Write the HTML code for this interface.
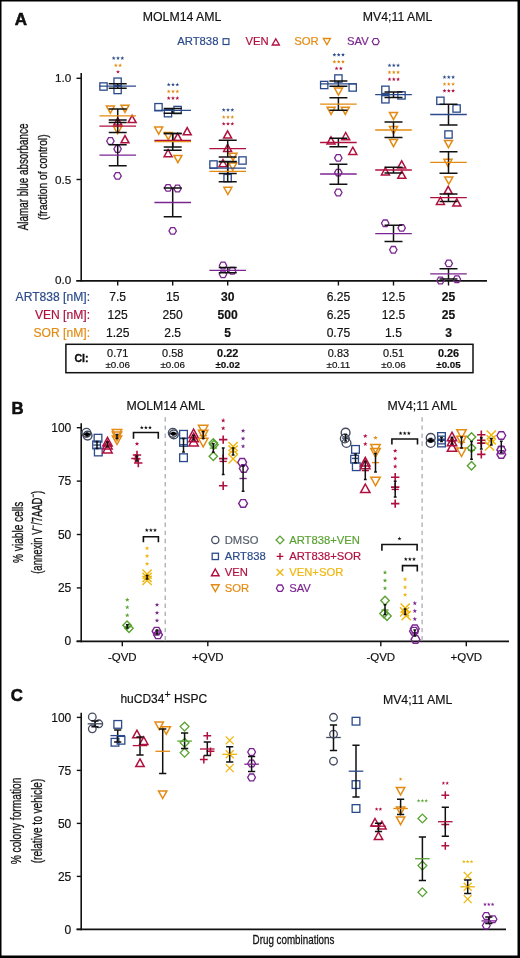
<!DOCTYPE html>
<html><head><meta charset="utf-8"><style>
html,body{margin:0;padding:0;background:#fff;}
#wrap{position:relative;width:520px;height:958px;overflow:hidden;background:#fff;}
svg{position:absolute;left:0;top:0;will-change:transform;}
text{font-family:"Liberation Sans",sans-serif;}
text:not([stroke]){stroke:currentColor;stroke-width:0.18px;}
</style></head><body><div id="wrap">
<svg width="520" height="958" viewBox="0 0 520 958">
<text x="14.7" y="25.3" font-size="17" fill="#111" color="#111" text-anchor="start" font-weight="bold" stroke="#000" stroke-width="0.5">A</text>
<text x="142.8" y="20.75" font-size="12.3" fill="#111" color="#111" text-anchor="start" font-weight="normal" >MOLM14 AML</text>
<text x="362.8" y="20.75" font-size="12.3" fill="#111" color="#111" text-anchor="start" font-weight="normal" >MV4;11 AML</text>
<text x="177.2" y="45" font-size="11.3" fill="#2b4a8b" color="#2b4a8b" text-anchor="start" font-weight="normal" >ART838</text>
<rect x="223.1" y="38.7" width="5.8" height="5.8" fill="none" stroke="#2b4a8b" stroke-width="1.2"/>
<text x="245.5" y="45" font-size="11.3" fill="#b0103e" color="#b0103e" text-anchor="start" font-weight="normal" >VEN</text>
<polygon points="275.8,38.8 279.4,45 272.2,45" fill="none" stroke="#b0103e" stroke-width="1.3" stroke-linejoin="miter"/>
<text x="294.3" y="45" font-size="11.3" fill="#e38b13" color="#e38b13" text-anchor="start" font-weight="normal" >SOR</text>
<polygon points="326.9,44.7 330.5,38.5 323.3,38.5" fill="none" stroke="#e38b13" stroke-width="1.3" stroke-linejoin="miter"/>
<text x="347" y="45" font-size="11.3" fill="#7b2590" color="#7b2590" text-anchor="start" font-weight="normal" >SAV</text>
<polygon points="372.2,41.6 373.95,38.5 377.45,38.5 379.2,41.6 377.45,44.7 373.95,44.7" fill="none" stroke="#7b2590" stroke-width="1.2"/>
<line x1="81.2" y1="73" x2="81.2" y2="281.5" stroke="#111" stroke-width="1.6" />
<line x1="76.2" y1="280.8" x2="487" y2="280.8" stroke="#111" stroke-width="1.8" />
<line x1="76.5" y1="78.3" x2="81.2" y2="78.3" stroke="#111" stroke-width="1.4" />
<line x1="76.5" y1="179.5" x2="81.2" y2="179.5" stroke="#111" stroke-width="1.4" />
<text x="71.2" y="82.3" font-size="11.7" fill="#111" color="#111" text-anchor="end" font-weight="normal" >1.0</text>
<text x="71.2" y="183.5" font-size="11.7" fill="#111" color="#111" text-anchor="end" font-weight="normal" >0.5</text>
<text x="71.2" y="284.4" font-size="11.7" fill="#111" color="#111" text-anchor="end" font-weight="normal" >0.0</text>
<line x1="117.7" y1="280.8" x2="117.7" y2="285.5" stroke="#111" stroke-width="1.4" />
<line x1="172.7" y1="280.8" x2="172.7" y2="285.5" stroke="#111" stroke-width="1.4" />
<line x1="227.7" y1="280.8" x2="227.7" y2="285.5" stroke="#111" stroke-width="1.4" />
<line x1="338.4" y1="280.8" x2="338.4" y2="285.5" stroke="#111" stroke-width="1.4" />
<line x1="393.5" y1="280.8" x2="393.5" y2="285.5" stroke="#111" stroke-width="1.4" />
<line x1="448.5" y1="280.8" x2="448.5" y2="285.5" stroke="#111" stroke-width="1.4" />
<text transform="translate(27.7,176.9) rotate(-90)" x="0" y="0" font-size="14" fill="#111" text-anchor="middle" textLength="106.6" lengthAdjust="spacingAndGlyphs" stroke="#111" stroke-width="0.3">Alamar blue absorbance</text>
<text transform="translate(46.6,177.2) rotate(-90)" x="0" y="0" font-size="13.5" fill="#111" text-anchor="middle" textLength="85.5" lengthAdjust="spacingAndGlyphs" stroke="#111" stroke-width="0.3">(fraction of control)</text>
<polygon points="113.7,56.1 114.19,57.52 115.7,57.55 114.5,58.46 114.93,59.9 113.7,59.04 112.47,59.9 112.9,58.46 111.7,57.55 113.21,57.52" fill="#2b4a8b"/>
<polygon points="118,56.1 118.49,57.52 120,57.55 118.8,58.46 119.23,59.9 118,59.04 116.77,59.9 117.2,58.46 116,57.55 117.51,57.52" fill="#2b4a8b"/>
<polygon points="122.3,56.1 122.79,57.52 124.3,57.55 123.1,58.46 123.53,59.9 122.3,59.04 121.07,59.9 121.5,58.46 120.3,57.55 121.81,57.52" fill="#2b4a8b"/>
<polygon points="115.85,63.3 116.34,64.72 117.85,64.75 116.65,65.66 117.08,67.1 115.85,66.24 114.62,67.1 115.05,65.66 113.85,64.75 115.36,64.72" fill="#e38b13"/>
<polygon points="120.15,63.3 120.64,64.72 122.15,64.75 120.95,65.66 121.38,67.1 120.15,66.24 118.92,67.1 119.35,65.66 118.15,64.75 119.66,64.72" fill="#e38b13"/>
<polygon points="118,69.8 118.49,71.22 120,71.25 118.8,72.16 119.23,73.6 118,72.74 116.77,73.6 117.2,72.16 116,71.25 117.51,71.22" fill="#b0103e"/>
<polygon points="106.7,141 108.55,137.7 112.25,137.7 114.1,141 112.25,144.3 108.55,144.3" fill="none" stroke="#7b2590" stroke-width="1.3"/>
<polygon points="113.9,149 115.75,145.7 119.45,145.7 121.3,149 119.45,152.3 115.75,152.3" fill="none" stroke="#7b2590" stroke-width="1.3"/>
<polygon points="113.9,175.9 115.75,172.6 119.45,172.6 121.3,175.9 119.45,179.2 115.75,179.2" fill="none" stroke="#7b2590" stroke-width="1.3"/>
<polygon points="117.8,117.9 121.8,125.1 113.8,125.1" fill="none" stroke="#b0103e" stroke-width="1.5" stroke-linejoin="miter"/>
<polygon points="132.1,115.4 136.1,122.6 128.1,122.6" fill="none" stroke="#b0103e" stroke-width="1.5" stroke-linejoin="miter"/>
<polygon points="125,135.6 129,142.8 121,142.8" fill="none" stroke="#b0103e" stroke-width="1.5" stroke-linejoin="miter"/>
<polygon points="110.4,113.2 114.4,106 106.4,106" fill="none" stroke="#e38b13" stroke-width="1.5" stroke-linejoin="miter"/>
<polygon points="125,112.4 129,105.2 121,105.2" fill="none" stroke="#e38b13" stroke-width="1.5" stroke-linejoin="miter"/>
<polygon points="117.6,133.8 121.6,126.6 113.6,126.6" fill="none" stroke="#e38b13" stroke-width="1.5" stroke-linejoin="miter"/>
<rect x="99.85" y="82.85" width="7.3" height="7.3" fill="none" stroke="#2b4a8b" stroke-width="1.3"/>
<rect x="113.95" y="78.05" width="7.3" height="7.3" fill="none" stroke="#2b4a8b" stroke-width="1.3"/>
<rect x="113.95" y="86.35" width="7.3" height="7.3" fill="none" stroke="#2b4a8b" stroke-width="1.3"/>
<path d="M117.7 144.8V165.8M108.7 144.8H126.7M108.7 165.8H126.7" stroke="#111" stroke-width="1.5" fill="none"/>
<path d="M117.7 119.9V132.6M108.7 119.9H126.7M108.7 132.6H126.7" stroke="#111" stroke-width="1.5" fill="none"/>
<path d="M117.7 109.1V122.5M108.7 109.1H126.7M108.7 122.5H126.7" stroke="#111" stroke-width="1.5" fill="none"/>
<path d="M117.7 83.7V88.3M108.7 83.7H126.7M108.7 88.3H126.7" stroke="#111" stroke-width="1.5" fill="none"/>
<line x1="99.4" y1="155.2" x2="136" y2="155.2" stroke="#7b2590" stroke-width="1.3" />
<line x1="99.4" y1="126.2" x2="136" y2="126.2" stroke="#b0103e" stroke-width="1.3" />
<line x1="99.4" y1="115.8" x2="136" y2="115.8" stroke="#e38b13" stroke-width="1.3" />
<line x1="99.4" y1="86.2" x2="136" y2="86.2" stroke="#2b4a8b" stroke-width="1.3" />
<polygon points="168.7,82.5 169.19,83.92 170.7,83.95 169.5,84.86 169.93,86.3 168.7,85.44 167.47,86.3 167.9,84.86 166.7,83.95 168.21,83.92" fill="#2b4a8b"/>
<polygon points="173,82.5 173.49,83.92 175,83.95 173.8,84.86 174.23,86.3 173,85.44 171.77,86.3 172.2,84.86 171,83.95 172.51,83.92" fill="#2b4a8b"/>
<polygon points="177.3,82.5 177.79,83.92 179.3,83.95 178.1,84.86 178.53,86.3 177.3,85.44 176.07,86.3 176.5,84.86 175.3,83.95 176.81,83.92" fill="#2b4a8b"/>
<polygon points="168.7,89.4 169.19,90.82 170.7,90.85 169.5,91.76 169.93,93.2 168.7,92.34 167.47,93.2 167.9,91.76 166.7,90.85 168.21,90.82" fill="#e38b13"/>
<polygon points="173,89.4 173.49,90.82 175,90.85 173.8,91.76 174.23,93.2 173,92.34 171.77,93.2 172.2,91.76 171,90.85 172.51,90.82" fill="#e38b13"/>
<polygon points="177.3,89.4 177.79,90.82 179.3,90.85 178.1,91.76 178.53,93.2 177.3,92.34 176.07,93.2 176.5,91.76 175.3,90.85 176.81,90.82" fill="#e38b13"/>
<polygon points="168.7,96.1 169.19,97.52 170.7,97.55 169.5,98.46 169.93,99.9 168.7,99.04 167.47,99.9 167.9,98.46 166.7,97.55 168.21,97.52" fill="#b0103e"/>
<polygon points="173,96.1 173.49,97.52 175,97.55 173.8,98.46 174.23,99.9 173,99.04 171.77,99.9 172.2,98.46 171,97.55 172.51,97.52" fill="#b0103e"/>
<polygon points="177.3,96.1 177.79,97.52 179.3,97.55 178.1,98.46 178.53,99.9 177.3,99.04 176.07,99.9 176.5,98.46 175.3,97.55 176.81,97.52" fill="#b0103e"/>
<polygon points="164.4,187.9 166.25,184.6 169.95,184.6 171.8,187.9 169.95,191.2 166.25,191.2" fill="none" stroke="#7b2590" stroke-width="1.3"/>
<polygon points="173.8,188.5 175.65,185.2 179.35,185.2 181.2,188.5 179.35,191.8 175.65,191.8" fill="none" stroke="#7b2590" stroke-width="1.3"/>
<polygon points="169,230.9 170.85,227.6 174.55,227.6 176.4,230.9 174.55,234.2 170.85,234.2" fill="none" stroke="#7b2590" stroke-width="1.3"/>
<polygon points="187.2,127.6 191.2,134.8 183.2,134.8" fill="none" stroke="#b0103e" stroke-width="1.5" stroke-linejoin="miter"/>
<polygon points="177.7,133.4 181.7,140.6 173.7,140.6" fill="none" stroke="#b0103e" stroke-width="1.5" stroke-linejoin="miter"/>
<polygon points="168.1,149.5 172.1,156.7 164.1,156.7" fill="none" stroke="#b0103e" stroke-width="1.5" stroke-linejoin="miter"/>
<polygon points="158.7,134.2 162.7,127 154.7,127" fill="none" stroke="#e38b13" stroke-width="1.5" stroke-linejoin="miter"/>
<polygon points="168.3,139.7 172.3,132.5 164.3,132.5" fill="none" stroke="#e38b13" stroke-width="1.5" stroke-linejoin="miter"/>
<polygon points="177.9,162.6 181.9,155.4 173.9,155.4" fill="none" stroke="#e38b13" stroke-width="1.5" stroke-linejoin="miter"/>
<rect x="154.85" y="103.55" width="7.3" height="7.3" fill="none" stroke="#2b4a8b" stroke-width="1.3"/>
<rect x="164.35" y="109.55" width="7.3" height="7.3" fill="none" stroke="#2b4a8b" stroke-width="1.3"/>
<rect x="173.95" y="106.35" width="7.3" height="7.3" fill="none" stroke="#2b4a8b" stroke-width="1.3"/>
<path d="M172.7 188.1V216.7M163.7 188.1H181.7M163.7 216.7H181.7" stroke="#111" stroke-width="1.5" fill="none"/>
<path d="M172.7 133.6V147.1M163.7 133.6H181.7M163.7 147.1H181.7" stroke="#111" stroke-width="1.5" fill="none"/>
<path d="M172.7 133.6V150.2M163.7 133.6H181.7M163.7 150.2H181.7" stroke="#111" stroke-width="1.5" fill="none"/>
<path d="M172.7 108.6V113.2M163.7 108.6H181.7M163.7 113.2H181.7" stroke="#111" stroke-width="1.5" fill="none"/>
<line x1="154.4" y1="202.5" x2="191" y2="202.5" stroke="#7b2590" stroke-width="1.3" />
<line x1="154.4" y1="140.5" x2="191" y2="140.5" stroke="#b0103e" stroke-width="1.3" />
<line x1="154.4" y1="141.7" x2="191" y2="141.7" stroke="#e38b13" stroke-width="1.3" />
<line x1="154.4" y1="110.4" x2="191" y2="110.4" stroke="#2b4a8b" stroke-width="1.3" />
<polygon points="223.7,107.9 224.19,109.32 225.7,109.35 224.5,110.26 224.93,111.7 223.7,110.84 222.47,111.7 222.9,110.26 221.7,109.35 223.21,109.32" fill="#2b4a8b"/>
<polygon points="228,107.9 228.49,109.32 230,109.35 228.8,110.26 229.23,111.7 228,110.84 226.77,111.7 227.2,110.26 226,109.35 227.51,109.32" fill="#2b4a8b"/>
<polygon points="232.3,107.9 232.79,109.32 234.3,109.35 233.1,110.26 233.53,111.7 232.3,110.84 231.07,111.7 231.5,110.26 230.3,109.35 231.81,109.32" fill="#2b4a8b"/>
<polygon points="223.7,115 224.19,116.42 225.7,116.45 224.5,117.36 224.93,118.8 223.7,117.94 222.47,118.8 222.9,117.36 221.7,116.45 223.21,116.42" fill="#e38b13"/>
<polygon points="228,115 228.49,116.42 230,116.45 228.8,117.36 229.23,118.8 228,117.94 226.77,118.8 227.2,117.36 226,116.45 227.51,116.42" fill="#e38b13"/>
<polygon points="232.3,115 232.79,116.42 234.3,116.45 233.1,117.36 233.53,118.8 232.3,117.94 231.07,118.8 231.5,117.36 230.3,116.45 231.81,116.42" fill="#e38b13"/>
<polygon points="223.7,121.8 224.19,123.22 225.7,123.25 224.5,124.16 224.93,125.6 223.7,124.74 222.47,125.6 222.9,124.16 221.7,123.25 223.21,123.22" fill="#b0103e"/>
<polygon points="228,121.8 228.49,123.22 230,123.25 228.8,124.16 229.23,125.6 228,124.74 226.77,125.6 227.2,124.16 226,123.25 227.51,123.22" fill="#b0103e"/>
<polygon points="232.3,121.8 232.79,123.22 234.3,123.25 233.1,124.16 233.53,125.6 232.3,124.74 231.07,125.6 231.5,124.16 230.3,123.25 231.81,123.22" fill="#b0103e"/>
<polygon points="219.3,265.5 221.15,262.2 224.85,262.2 226.7,265.5 224.85,268.8 221.15,268.8" fill="none" stroke="#7b2590" stroke-width="1.3"/>
<polygon points="219.3,274.3 221.15,271 224.85,271 226.7,274.3 224.85,277.6 221.15,277.6" fill="none" stroke="#7b2590" stroke-width="1.3"/>
<polygon points="228.6,270.8 230.45,267.5 234.15,267.5 236,270.8 234.15,274.1 230.45,274.1" fill="none" stroke="#7b2590" stroke-width="1.3"/>
<polygon points="233,160.4 237,153.2 229,153.2" fill="none" stroke="#e38b13" stroke-width="1.5" stroke-linejoin="miter"/>
<polygon points="232.7,170.1 236.7,162.9 228.7,162.9" fill="none" stroke="#e38b13" stroke-width="1.5" stroke-linejoin="miter"/>
<polygon points="227.9,194.5 231.9,187.3 223.9,187.3" fill="none" stroke="#e38b13" stroke-width="1.5" stroke-linejoin="miter"/>
<rect x="209.85" y="160.85" width="7.3" height="7.3" fill="none" stroke="#2b4a8b" stroke-width="1.3"/>
<rect x="238.85" y="156.85" width="7.3" height="7.3" fill="none" stroke="#2b4a8b" stroke-width="1.3"/>
<rect x="223.95" y="174.45" width="7.3" height="7.3" fill="none" stroke="#2b4a8b" stroke-width="1.3"/>
<polygon points="227.6,130.9 231.6,138.1 223.6,138.1" fill="none" stroke="#b0103e" stroke-width="1.5" stroke-linejoin="miter"/>
<polygon points="227.6,144.3 231.6,151.5 223.6,151.5" fill="none" stroke="#b0103e" stroke-width="1.5" stroke-linejoin="miter"/>
<polygon points="223,159.5 227,166.7 219,166.7" fill="none" stroke="#b0103e" stroke-width="1.5" stroke-linejoin="miter"/>
<path d="M227.7 267.6V272.8M218.7 267.6H236.7M218.7 272.8H236.7" stroke="#111" stroke-width="1.5" fill="none"/>
<path d="M227.7 161.5V181.8M218.7 161.5H236.7M218.7 181.8H236.7" stroke="#111" stroke-width="1.5" fill="none"/>
<path d="M227.7 161.8V173.4M218.7 161.8H236.7M218.7 173.4H236.7" stroke="#111" stroke-width="1.5" fill="none"/>
<path d="M227.7 140.2V157M218.7 140.2H236.7M218.7 157H236.7" stroke="#111" stroke-width="1.5" fill="none"/>
<line x1="209.4" y1="270.3" x2="246" y2="270.3" stroke="#7b2590" stroke-width="1.3" />
<line x1="209.4" y1="171.3" x2="246" y2="171.3" stroke="#e38b13" stroke-width="1.3" />
<line x1="209.4" y1="168.1" x2="246" y2="168.1" stroke="#2b4a8b" stroke-width="1.3" />
<line x1="209.4" y1="148.6" x2="246" y2="148.6" stroke="#b0103e" stroke-width="1.3" />
<polygon points="334.4,52.7 334.89,54.12 336.4,54.15 335.2,55.06 335.63,56.5 334.4,55.64 333.17,56.5 333.6,55.06 332.4,54.15 333.91,54.12" fill="#2b4a8b"/>
<polygon points="338.7,52.7 339.19,54.12 340.7,54.15 339.5,55.06 339.93,56.5 338.7,55.64 337.47,56.5 337.9,55.06 336.7,54.15 338.21,54.12" fill="#2b4a8b"/>
<polygon points="343,52.7 343.49,54.12 345,54.15 343.8,55.06 344.23,56.5 343,55.64 341.77,56.5 342.2,55.06 341,54.15 342.51,54.12" fill="#2b4a8b"/>
<polygon points="334.4,59.7 334.89,61.12 336.4,61.15 335.2,62.06 335.63,63.5 334.4,62.64 333.17,63.5 333.6,62.06 332.4,61.15 333.91,61.12" fill="#e38b13"/>
<polygon points="338.7,59.7 339.19,61.12 340.7,61.15 339.5,62.06 339.93,63.5 338.7,62.64 337.47,63.5 337.9,62.06 336.7,61.15 338.21,61.12" fill="#e38b13"/>
<polygon points="343,59.7 343.49,61.12 345,61.15 343.8,62.06 344.23,63.5 343,62.64 341.77,63.5 342.2,62.06 341,61.15 342.51,61.12" fill="#e38b13"/>
<polygon points="336.55,66.4 337.04,67.82 338.55,67.85 337.35,68.76 337.78,70.2 336.55,69.34 335.32,70.2 335.75,68.76 334.55,67.85 336.06,67.82" fill="#b0103e"/>
<polygon points="340.85,66.4 341.34,67.82 342.85,67.85 341.65,68.76 342.08,70.2 340.85,69.34 339.62,70.2 340.05,68.76 338.85,67.85 340.36,67.82" fill="#b0103e"/>
<polygon points="334.6,157.9 336.45,154.6 340.15,154.6 342,157.9 340.15,161.2 336.45,161.2" fill="none" stroke="#7b2590" stroke-width="1.3"/>
<polygon points="334.6,172.6 336.45,169.3 340.15,169.3 342,172.6 340.15,175.9 336.45,175.9" fill="none" stroke="#7b2590" stroke-width="1.3"/>
<polygon points="334.6,192.5 336.45,189.2 340.15,189.2 342,192.5 340.15,195.8 336.45,195.8" fill="none" stroke="#7b2590" stroke-width="1.3"/>
<polygon points="345.7,132.5 349.7,139.7 341.7,139.7" fill="none" stroke="#b0103e" stroke-width="1.5" stroke-linejoin="miter"/>
<polygon points="331,136.8 335,144 327,144" fill="none" stroke="#b0103e" stroke-width="1.5" stroke-linejoin="miter"/>
<polygon points="352.8,147.2 356.8,154.4 348.8,154.4" fill="none" stroke="#b0103e" stroke-width="1.5" stroke-linejoin="miter"/>
<polygon points="338.5,95.2 342.5,88 334.5,88" fill="none" stroke="#e38b13" stroke-width="1.5" stroke-linejoin="miter"/>
<polygon points="331.1,114.4 335.1,107.2 327.1,107.2" fill="none" stroke="#e38b13" stroke-width="1.5" stroke-linejoin="miter"/>
<polygon points="345.3,114.4 349.3,107.2 341.3,107.2" fill="none" stroke="#e38b13" stroke-width="1.5" stroke-linejoin="miter"/>
<rect x="334.75" y="74.85" width="7.3" height="7.3" fill="none" stroke="#2b4a8b" stroke-width="1.3"/>
<rect x="320.55" y="81.35" width="7.3" height="7.3" fill="none" stroke="#2b4a8b" stroke-width="1.3"/>
<rect x="349.05" y="83.85" width="7.3" height="7.3" fill="none" stroke="#2b4a8b" stroke-width="1.3"/>
<path d="M338.4 164.2V184.2M329.4 164.2H347.4M329.4 184.2H347.4" stroke="#111" stroke-width="1.5" fill="none"/>
<path d="M338.4 138.2V146.7M329.4 138.2H347.4M329.4 146.7H347.4" stroke="#111" stroke-width="1.5" fill="none"/>
<path d="M338.4 97.8V110.2M329.4 97.8H347.4M329.4 110.2H347.4" stroke="#111" stroke-width="1.5" fill="none"/>
<path d="M338.4 81V86.2M329.4 81H347.4M329.4 86.2H347.4" stroke="#111" stroke-width="1.5" fill="none"/>
<line x1="320.1" y1="174" x2="356.7" y2="174" stroke="#7b2590" stroke-width="1.3" />
<line x1="320.1" y1="142.5" x2="356.7" y2="142.5" stroke="#b0103e" stroke-width="1.3" />
<line x1="320.1" y1="104.1" x2="356.7" y2="104.1" stroke="#e38b13" stroke-width="1.3" />
<line x1="320.1" y1="83.8" x2="356.7" y2="83.8" stroke="#2b4a8b" stroke-width="1.3" />
<polygon points="389.5,63.3 389.99,64.72 391.5,64.75 390.3,65.66 390.73,67.1 389.5,66.24 388.27,67.1 388.7,65.66 387.5,64.75 389.01,64.72" fill="#2b4a8b"/>
<polygon points="393.8,63.3 394.29,64.72 395.8,64.75 394.6,65.66 395.03,67.1 393.8,66.24 392.57,67.1 393,65.66 391.8,64.75 393.31,64.72" fill="#2b4a8b"/>
<polygon points="398.1,63.3 398.59,64.72 400.1,64.75 398.9,65.66 399.33,67.1 398.1,66.24 396.87,67.1 397.3,65.66 396.1,64.75 397.61,64.72" fill="#2b4a8b"/>
<polygon points="389.5,70.2 389.99,71.62 391.5,71.65 390.3,72.56 390.73,74 389.5,73.14 388.27,74 388.7,72.56 387.5,71.65 389.01,71.62" fill="#e38b13"/>
<polygon points="393.8,70.2 394.29,71.62 395.8,71.65 394.6,72.56 395.03,74 393.8,73.14 392.57,74 393,72.56 391.8,71.65 393.31,71.62" fill="#e38b13"/>
<polygon points="398.1,70.2 398.59,71.62 400.1,71.65 398.9,72.56 399.33,74 398.1,73.14 396.87,74 397.3,72.56 396.1,71.65 397.61,71.62" fill="#e38b13"/>
<polygon points="389.5,77.2 389.99,78.62 391.5,78.65 390.3,79.56 390.73,81 389.5,80.14 388.27,81 388.7,79.56 387.5,78.65 389.01,78.62" fill="#b0103e"/>
<polygon points="393.8,77.2 394.29,78.62 395.8,78.65 394.6,79.56 395.03,81 393.8,80.14 392.57,81 393,79.56 391.8,78.65 393.31,78.62" fill="#b0103e"/>
<polygon points="398.1,77.2 398.59,78.62 400.1,78.65 398.9,79.56 399.33,81 398.1,80.14 396.87,81 397.3,79.56 396.1,78.65 397.61,78.62" fill="#b0103e"/>
<polygon points="381.5,223.3 383.35,220 387.05,220 388.9,223.3 387.05,226.6 383.35,226.6" fill="none" stroke="#7b2590" stroke-width="1.3"/>
<polygon points="398,227.9 399.85,224.6 403.55,224.6 405.4,227.9 403.55,231.2 399.85,231.2" fill="none" stroke="#7b2590" stroke-width="1.3"/>
<polygon points="389.6,249.8 391.45,246.5 395.15,246.5 397,249.8 395.15,253.1 391.45,253.1" fill="none" stroke="#7b2590" stroke-width="1.3"/>
<polygon points="385.4,167.7 389.4,174.9 381.4,174.9" fill="none" stroke="#b0103e" stroke-width="1.5" stroke-linejoin="miter"/>
<polygon points="401.7,160.8 405.7,168 397.7,168" fill="none" stroke="#b0103e" stroke-width="1.5" stroke-linejoin="miter"/>
<polygon points="401.8,171.1 405.8,178.3 397.8,178.3" fill="none" stroke="#b0103e" stroke-width="1.5" stroke-linejoin="miter"/>
<polygon points="393.5,119.6 397.5,112.4 389.5,112.4" fill="none" stroke="#e38b13" stroke-width="1.5" stroke-linejoin="miter"/>
<polygon points="393.5,133.8 397.5,126.6 389.5,126.6" fill="none" stroke="#e38b13" stroke-width="1.5" stroke-linejoin="miter"/>
<polygon points="393.5,146.6 397.5,139.4 389.5,139.4" fill="none" stroke="#e38b13" stroke-width="1.5" stroke-linejoin="miter"/>
<rect x="381.75" y="86.15" width="7.3" height="7.3" fill="none" stroke="#2b4a8b" stroke-width="1.3"/>
<rect x="381.75" y="95.65" width="7.3" height="7.3" fill="none" stroke="#2b4a8b" stroke-width="1.3"/>
<rect x="397.85" y="91.75" width="7.3" height="7.3" fill="none" stroke="#2b4a8b" stroke-width="1.3"/>
<path d="M393.5 225.2V241.4M384.5 225.2H402.5M384.5 241.4H402.5" stroke="#111" stroke-width="1.5" fill="none"/>
<path d="M393.5 167.3V173.1M384.5 167.3H402.5M384.5 173.1H402.5" stroke="#111" stroke-width="1.5" fill="none"/>
<path d="M393.5 121.9V137.5M384.5 121.9H402.5M384.5 137.5H402.5" stroke="#111" stroke-width="1.5" fill="none"/>
<path d="M393.5 91.9V97.5M384.5 91.9H402.5M384.5 97.5H402.5" stroke="#111" stroke-width="1.5" fill="none"/>
<line x1="375.2" y1="233.6" x2="411.8" y2="233.6" stroke="#7b2590" stroke-width="1.3" />
<line x1="375.2" y1="170" x2="411.8" y2="170" stroke="#b0103e" stroke-width="1.3" />
<line x1="375.2" y1="130" x2="411.8" y2="130" stroke="#e38b13" stroke-width="1.3" />
<line x1="375.2" y1="94.6" x2="411.8" y2="94.6" stroke="#2b4a8b" stroke-width="1.3" />
<polygon points="444.5,75.1 444.99,76.52 446.5,76.55 445.3,77.46 445.73,78.9 444.5,78.04 443.27,78.9 443.7,77.46 442.5,76.55 444.01,76.52" fill="#2b4a8b"/>
<polygon points="448.8,75.1 449.29,76.52 450.8,76.55 449.6,77.46 450.03,78.9 448.8,78.04 447.57,78.9 448,77.46 446.8,76.55 448.31,76.52" fill="#2b4a8b"/>
<polygon points="453.1,75.1 453.59,76.52 455.1,76.55 453.9,77.46 454.33,78.9 453.1,78.04 451.87,78.9 452.3,77.46 451.1,76.55 452.61,76.52" fill="#2b4a8b"/>
<polygon points="444.5,82 444.99,83.42 446.5,83.45 445.3,84.36 445.73,85.8 444.5,84.94 443.27,85.8 443.7,84.36 442.5,83.45 444.01,83.42" fill="#e38b13"/>
<polygon points="448.8,82 449.29,83.42 450.8,83.45 449.6,84.36 450.03,85.8 448.8,84.94 447.57,85.8 448,84.36 446.8,83.45 448.31,83.42" fill="#e38b13"/>
<polygon points="453.1,82 453.59,83.42 455.1,83.45 453.9,84.36 454.33,85.8 453.1,84.94 451.87,85.8 452.3,84.36 451.1,83.45 452.61,83.42" fill="#e38b13"/>
<polygon points="444.5,88.7 444.99,90.12 446.5,90.15 445.3,91.06 445.73,92.5 444.5,91.64 443.27,92.5 443.7,91.06 442.5,90.15 444.01,90.12" fill="#b0103e"/>
<polygon points="448.8,88.7 449.29,90.12 450.8,90.15 449.6,91.06 450.03,92.5 448.8,91.64 447.57,92.5 448,91.06 446.8,90.15 448.31,90.12" fill="#b0103e"/>
<polygon points="453.1,88.7 453.59,90.12 455.1,90.15 453.9,91.06 454.33,92.5 453.1,91.64 451.87,92.5 452.3,91.06 451.1,90.15 452.61,90.12" fill="#b0103e"/>
<polygon points="445.1,263.4 446.95,260.1 450.65,260.1 452.5,263.4 450.65,266.7 446.95,266.7" fill="none" stroke="#7b2590" stroke-width="1.3"/>
<polygon points="436.8,280.5 438.65,277.2 442.35,277.2 444.2,280.5 442.35,283.8 438.65,283.8" fill="none" stroke="#7b2590" stroke-width="1.3"/>
<polygon points="453.2,279.2 455.05,275.9 458.75,275.9 460.6,279.2 458.75,282.5 455.05,282.5" fill="none" stroke="#7b2590" stroke-width="1.3"/>
<polygon points="448.2,186.4 452.2,193.6 444.2,193.6" fill="none" stroke="#b0103e" stroke-width="1.5" stroke-linejoin="miter"/>
<polygon points="440.4,197.2 444.4,204.4 436.4,204.4" fill="none" stroke="#b0103e" stroke-width="1.5" stroke-linejoin="miter"/>
<polygon points="456.8,198.9 460.8,206.1 452.8,206.1" fill="none" stroke="#b0103e" stroke-width="1.5" stroke-linejoin="miter"/>
<polygon points="448.5,147.6 452.5,140.4 444.5,140.4" fill="none" stroke="#e38b13" stroke-width="1.5" stroke-linejoin="miter"/>
<polygon points="448,166.5 452,159.3 444,159.3" fill="none" stroke="#e38b13" stroke-width="1.5" stroke-linejoin="miter"/>
<polygon points="448.8,184.2 452.8,177 444.8,177" fill="none" stroke="#e38b13" stroke-width="1.5" stroke-linejoin="miter"/>
<rect x="436.75" y="97.15" width="7.3" height="7.3" fill="none" stroke="#2b4a8b" stroke-width="1.3"/>
<rect x="452.95" y="104.85" width="7.3" height="7.3" fill="none" stroke="#2b4a8b" stroke-width="1.3"/>
<rect x="444.85" y="130.85" width="7.3" height="7.3" fill="none" stroke="#2b4a8b" stroke-width="1.3"/>
<path d="M448.5 268.8V279M439.5 268.8H457.5M439.5 279H457.5" stroke="#111" stroke-width="1.5" fill="none"/>
<path d="M448.5 194V201.5M439.5 194H457.5M439.5 201.5H457.5" stroke="#111" stroke-width="1.5" fill="none"/>
<path d="M448.5 151.8V173.3M439.5 151.8H457.5M439.5 173.3H457.5" stroke="#111" stroke-width="1.5" fill="none"/>
<path d="M448.5 104.2V125M439.5 104.2H457.5M439.5 125H457.5" stroke="#111" stroke-width="1.5" fill="none"/>
<line x1="430.2" y1="273.8" x2="466.8" y2="273.8" stroke="#7b2590" stroke-width="1.3" />
<line x1="430.2" y1="197.7" x2="466.8" y2="197.7" stroke="#b0103e" stroke-width="1.3" />
<line x1="430.2" y1="162.4" x2="466.8" y2="162.4" stroke="#e38b13" stroke-width="1.3" />
<line x1="430.2" y1="114.5" x2="466.8" y2="114.5" stroke="#2b4a8b" stroke-width="1.3" />
<g font-size="12">
<text x="90" y="300.6" font-size="12.1" fill="#2b4a8b" color="#2b4a8b" text-anchor="end" font-weight="normal" >ART838 [nM]:</text>
<text x="90" y="318.85" font-size="12.1" fill="#b0103e" color="#b0103e" text-anchor="end" font-weight="normal" >VEN [nM]:</text>
<text x="90" y="337.1" font-size="12.1" fill="#e38b13" color="#e38b13" text-anchor="end" font-weight="normal" >SOR [nM]:</text>
<text x="117.7" y="300.6" font-size="12.1" fill="#111" color="#111" text-anchor="middle" font-weight="normal" >7.5</text>
<text x="172.7" y="300.6" font-size="12.1" fill="#111" color="#111" text-anchor="middle" font-weight="normal" >15</text>
<text x="227.7" y="300.6" font-size="12.1" fill="#111" color="#111" text-anchor="middle" font-weight="bold" >30</text>
<text x="338.4" y="300.6" font-size="12.1" fill="#111" color="#111" text-anchor="middle" font-weight="normal" >6.25</text>
<text x="393.5" y="300.6" font-size="12.1" fill="#111" color="#111" text-anchor="middle" font-weight="normal" >12.5</text>
<text x="448.5" y="300.6" font-size="12.1" fill="#111" color="#111" text-anchor="middle" font-weight="bold" >25</text>
<text x="117.7" y="318.85" font-size="12.1" fill="#111" color="#111" text-anchor="middle" font-weight="normal" >125</text>
<text x="172.7" y="318.85" font-size="12.1" fill="#111" color="#111" text-anchor="middle" font-weight="normal" >250</text>
<text x="227.7" y="318.85" font-size="12.1" fill="#111" color="#111" text-anchor="middle" font-weight="bold" >500</text>
<text x="338.4" y="318.85" font-size="12.1" fill="#111" color="#111" text-anchor="middle" font-weight="normal" >6.25</text>
<text x="393.5" y="318.85" font-size="12.1" fill="#111" color="#111" text-anchor="middle" font-weight="normal" >12.5</text>
<text x="448.5" y="318.85" font-size="12.1" fill="#111" color="#111" text-anchor="middle" font-weight="bold" >25</text>
<text x="117.7" y="337.1" font-size="12.1" fill="#111" color="#111" text-anchor="middle" font-weight="normal" >1.25</text>
<text x="172.7" y="337.1" font-size="12.1" fill="#111" color="#111" text-anchor="middle" font-weight="normal" >2.5</text>
<text x="227.7" y="337.1" font-size="12.1" fill="#111" color="#111" text-anchor="middle" font-weight="bold" >5</text>
<text x="338.4" y="337.1" font-size="12.1" fill="#111" color="#111" text-anchor="middle" font-weight="normal" >0.75</text>
<text x="393.5" y="337.1" font-size="12.1" fill="#111" color="#111" text-anchor="middle" font-weight="normal" >1.5</text>
<text x="448.5" y="337.1" font-size="12.1" fill="#111" color="#111" text-anchor="middle" font-weight="bold" >3</text>
</g>
<rect x="65.9" y="344.3" width="407.1" height="28.4" fill="none" stroke="#111" stroke-width="1.5"/>
<text x="74.4" y="361.7" font-size="10.6" fill="#111" color="#111" text-anchor="start" font-weight="bold" stroke="#000" stroke-width="0.3">CI:</text>
<text x="117.7" y="356.9" font-size="10.9" fill="#111" color="#111" text-anchor="middle" font-weight="normal" >0.71</text>
<text x="117.7" y="368.3" font-size="9.8" fill="#111" color="#111" text-anchor="middle" font-weight="normal" >±0.06</text>
<text x="172.7" y="356.9" font-size="10.9" fill="#111" color="#111" text-anchor="middle" font-weight="normal" >0.58</text>
<text x="172.7" y="368.3" font-size="9.8" fill="#111" color="#111" text-anchor="middle" font-weight="normal" >±0.06</text>
<text x="227.7" y="356.9" font-size="10.9" fill="#111" color="#111" text-anchor="middle" font-weight="bold" >0.22</text>
<text x="227.7" y="368.3" font-size="9.8" fill="#111" color="#111" text-anchor="middle" font-weight="bold" >±0.02</text>
<text x="338.4" y="356.9" font-size="10.9" fill="#111" color="#111" text-anchor="middle" font-weight="normal" >0.83</text>
<text x="338.4" y="368.3" font-size="9.8" fill="#111" color="#111" text-anchor="middle" font-weight="normal" >±0.11</text>
<text x="393.5" y="356.9" font-size="10.9" fill="#111" color="#111" text-anchor="middle" font-weight="normal" >0.51</text>
<text x="393.5" y="368.3" font-size="9.8" fill="#111" color="#111" text-anchor="middle" font-weight="normal" >±0.06</text>
<text x="448.5" y="356.9" font-size="10.9" fill="#111" color="#111" text-anchor="middle" font-weight="bold" >0.26</text>
<text x="448.5" y="368.3" font-size="9.8" fill="#111" color="#111" text-anchor="middle" font-weight="bold" >±0.05</text>
<text x="11.6" y="413.9" font-size="16.8" fill="#111" color="#111" text-anchor="start" font-weight="bold" stroke="#000" stroke-width="0.5">B</text>
<text x="126.4" y="409.5" font-size="12.3" fill="#111" color="#111" text-anchor="start" font-weight="normal" >MOLM14 AML</text>
<text x="387.5" y="409.8" font-size="12.3" fill="#111" color="#111" text-anchor="start" font-weight="normal" >MV4;11 AML</text>
<line x1="81.2" y1="423.3" x2="81.2" y2="642.2" stroke="#111" stroke-width="1.6" />
<line x1="76.5" y1="641.3" x2="509" y2="641.3" stroke="#111" stroke-width="1.8" />
<line x1="76.8" y1="427.7" x2="81.2" y2="427.7" stroke="#111" stroke-width="1.4" />
<text x="71.3" y="431.7" font-size="12" fill="#111" color="#111" text-anchor="end" font-weight="normal" >100</text>
<line x1="76.8" y1="481.1" x2="81.2" y2="481.1" stroke="#111" stroke-width="1.4" />
<text x="71.3" y="485.1" font-size="12" fill="#111" color="#111" text-anchor="end" font-weight="normal" >75</text>
<line x1="76.8" y1="534.5" x2="81.2" y2="534.5" stroke="#111" stroke-width="1.4" />
<text x="71.3" y="538.5" font-size="12" fill="#111" color="#111" text-anchor="end" font-weight="normal" >50</text>
<line x1="76.8" y1="587.9" x2="81.2" y2="587.9" stroke="#111" stroke-width="1.4" />
<text x="71.3" y="591.9" font-size="12" fill="#111" color="#111" text-anchor="end" font-weight="normal" >25</text>
<line x1="76.8" y1="641.3" x2="81.2" y2="641.3" stroke="#111" stroke-width="1.4" />
<text x="71.3" y="645.3" font-size="12" fill="#111" color="#111" text-anchor="end" font-weight="normal" >0</text>
<line x1="122.3" y1="641.3" x2="122.3" y2="646.2" stroke="#111" stroke-width="1.4" />
<line x1="207.8" y1="641.3" x2="207.8" y2="646.2" stroke="#111" stroke-width="1.4" />
<line x1="380.8" y1="641.3" x2="380.8" y2="646.2" stroke="#111" stroke-width="1.4" />
<line x1="466.3" y1="641.3" x2="466.3" y2="646.2" stroke="#111" stroke-width="1.4" />
<text x="122.3" y="661" font-size="11.5" fill="#111" color="#111" text-anchor="middle" font-weight="normal" >-QVD</text>
<text x="207.8" y="661" font-size="11.5" fill="#111" color="#111" text-anchor="middle" font-weight="normal" >+QVD</text>
<text x="380.8" y="661" font-size="11.5" fill="#111" color="#111" text-anchor="middle" font-weight="normal" >-QVD</text>
<text x="466.3" y="661" font-size="11.5" fill="#111" color="#111" text-anchor="middle" font-weight="normal" >+QVD</text>
<text transform="translate(23.4,532.3) rotate(-90)" x="0" y="0" font-size="14.5" fill="#111" text-anchor="middle" textLength="61.3" lengthAdjust="spacingAndGlyphs" stroke="#111" stroke-width="0.3">% viable cells</text>
<text transform="translate(42,532.3) rotate(-90)" x="0" y="0" font-size="14" fill="#111" text-anchor="middle" textLength="83" lengthAdjust="spacingAndGlyphs" stroke="#111" stroke-width="0.3">(annexin V<tspan dy="-6" font-size="9">−</tspan><tspan dy="6">/7AAD</tspan><tspan dy="-6" font-size="9">−</tspan><tspan dy="6">)</tspan></text>
<line x1="165.25" y1="417.3" x2="165.25" y2="641" stroke="#acacb6" stroke-width="1.3" stroke-dasharray="4.4 3.7"/>
<line x1="422.1" y1="417.3" x2="422.1" y2="641" stroke="#acacb6" stroke-width="1.3" stroke-dasharray="4.4 3.7"/>
<circle cx="215.3" cy="540" r="3.6" fill="none" stroke="#434b60" stroke-width="1.3"/>
<text x="224.7" y="543.8" font-size="11.25" fill="#555c6b" color="#555c6b" text-anchor="start" font-weight="normal" >DMSO</text>
<rect x="212.15" y="553.25" width="6.3" height="6.3" fill="none" stroke="#2b4a8b" stroke-width="1.3"/>
<text x="224.7" y="559.6" font-size="11.25" fill="#2b4a8b" color="#2b4a8b" text-anchor="start" font-weight="normal" >ART838</text>
<polygon points="215.3,569 219.1,575.8 211.5,575.8" fill="none" stroke="#b0103e" stroke-width="1.4" stroke-linejoin="miter"/>
<text x="224.7" y="575.8" font-size="11.25" fill="#b0103e" color="#b0103e" text-anchor="start" font-weight="normal" >VEN</text>
<polygon points="215.3,591.6 219.1,584.8 211.5,584.8" fill="none" stroke="#e38b13" stroke-width="1.4" stroke-linejoin="miter"/>
<text x="224.7" y="591.8" font-size="11.25" fill="#e38b13" color="#e38b13" text-anchor="start" font-weight="normal" >SOR</text>
<polygon points="280,536.1 283.9,540 280,543.9 276.1,540" fill="none" stroke="#5aa232" stroke-width="1.3"/>
<text x="289.2" y="543.8" font-size="11.25" fill="#5aa232" color="#5aa232" text-anchor="start" font-weight="normal" >ART838+VEN</text>
<path d="M276.6 556.4H283.4M280 553V559.8" stroke="#b0103e" stroke-width="1.4" fill="none"/>
<text x="289.2" y="559.6" font-size="11.25" fill="#b0103e" color="#b0103e" text-anchor="start" font-weight="normal" >ART838+SOR</text>
<path d="M276.6 569L283.4 575.8M283.4 569L276.6 575.8" stroke="#efb60c" stroke-width="1.3" fill="none"/>
<text x="289.2" y="575.8" font-size="11.25" fill="#efb60c" color="#efb60c" text-anchor="start" font-weight="normal" >VEN+SOR</text>
<polygon points="276.4,588.2 278.2,585 281.8,585 283.6,588.2 281.8,591.4 278.2,591.4" fill="none" stroke="#7b2590" stroke-width="1.3"/>
<text x="289.2" y="591.8" font-size="11.25" fill="#7b2590" color="#7b2590" text-anchor="start" font-weight="normal" >SAV</text>
<circle cx="86.4" cy="432.8" r="4.4" fill="none" stroke="#434b60" stroke-width="1.4"/>
<circle cx="87.6" cy="435.6" r="4.4" fill="none" stroke="#434b60" stroke-width="1.4"/>
<path d="M87 433V436M85.6 433H88.4M85.6 436H88.4" stroke="#111" stroke-width="1.5" fill="none"/>
<ellipse cx="87" cy="434.2" rx="3.2" ry="1.5" fill="#000"/>
<rect x="94.15" y="434.35" width="7.7" height="7.7" fill="none" stroke="#2b4a8b" stroke-width="1.3"/>
<rect x="92.75" y="441.05" width="7.7" height="7.7" fill="none" stroke="#2b4a8b" stroke-width="1.3"/>
<rect x="94.45" y="448.15" width="7.7" height="7.7" fill="none" stroke="#2b4a8b" stroke-width="1.3"/>
<line x1="93.4" y1="445.03" x2="100.6" y2="445.03" stroke="#2b4a8b" stroke-width="1.4" />
<path d="M97 441.5V448.5M95.6 441.5H98.4M95.6 448.5H98.4" stroke="#111" stroke-width="1.5" fill="none"/>
<polygon points="107.5,437.3 112.2,445.9 102.8,445.9" fill="none" stroke="#b0103e" stroke-width="1.5" stroke-linejoin="miter"/>
<polygon points="107.5,440.5 112.2,449.1 102.8,449.1" fill="none" stroke="#b0103e" stroke-width="1.5" stroke-linejoin="miter"/>
<polygon points="107.5,444.5 112.2,453.1 102.8,453.1" fill="none" stroke="#b0103e" stroke-width="1.5" stroke-linejoin="miter"/>
<line x1="103.9" y1="445.07" x2="111.1" y2="445.07" stroke="#b0103e" stroke-width="1.4" />
<path d="M107.5 442V447M106.1 442H108.9M106.1 447H108.9" stroke="#111" stroke-width="1.5" fill="none"/>
<polygon points="117,438.1 121.7,429.5 112.3,429.5" fill="none" stroke="#e38b13" stroke-width="1.5" stroke-linejoin="miter"/>
<polygon points="117,440.7 121.7,432.1 112.3,432.1" fill="none" stroke="#e38b13" stroke-width="1.5" stroke-linejoin="miter"/>
<polygon points="117,444.5 121.7,435.9 112.3,435.9" fill="none" stroke="#e38b13" stroke-width="1.5" stroke-linejoin="miter"/>
<line x1="113.4" y1="436.8" x2="120.6" y2="436.8" stroke="#e38b13" stroke-width="1.4" />
<path d="M117 434.5V438.5M115.6 434.5H118.4M115.6 438.5H118.4" stroke="#111" stroke-width="1.5" fill="none"/>
<polygon points="137,441.4 137.56,443.02 139.28,443.06 137.91,444.1 138.41,445.74 137,444.76 135.59,445.74 136.09,444.1 134.72,443.06 136.44,443.02" fill="#b0103e"/>
<path d="M132.8 455H141.2M137 450.8V459.2" stroke="#b0103e" stroke-width="1.6" fill="none"/>
<path d="M131.3 458.5H139.7M135.5 454.3V462.7" stroke="#b0103e" stroke-width="1.6" fill="none"/>
<path d="M134.1 463H142.5M138.3 458.8V467.2" stroke="#b0103e" stroke-width="1.6" fill="none"/>
<line x1="133.4" y1="458.83" x2="140.6" y2="458.83" stroke="#b0103e" stroke-width="1.4" />
<path d="M137 456V461M135.6 456H138.4M135.6 461H138.4" stroke="#111" stroke-width="1.5" fill="none"/>
<polygon points="147.1,545.9 147.66,547.52 149.38,547.56 148.01,548.6 148.51,550.24 147.1,549.26 145.69,550.24 146.19,548.6 144.82,547.56 146.54,547.52" fill="#efb60c"/>
<polygon points="147.1,553.7 147.66,555.32 149.38,555.36 148.01,556.4 148.51,558.04 147.1,557.06 145.69,558.04 146.19,556.4 144.82,555.36 146.54,555.32" fill="#efb60c"/>
<polygon points="147.1,561.4 147.66,563.02 149.38,563.06 148.01,564.1 148.51,565.74 147.1,564.76 145.69,565.74 146.19,564.1 144.82,563.06 146.54,563.02" fill="#efb60c"/>
<path d="M142.5 569.6L151.7 578.8M151.7 569.6L142.5 578.8" stroke="#efb60c" stroke-width="1.4" fill="none"/>
<path d="M142.5 572.7L151.7 581.9M151.7 572.7L142.5 581.9" stroke="#efb60c" stroke-width="1.4" fill="none"/>
<path d="M142.5 575.8L151.7 585M151.7 575.8L142.5 585" stroke="#efb60c" stroke-width="1.4" fill="none"/>
<line x1="143.5" y1="577.3" x2="150.7" y2="577.3" stroke="#efb60c" stroke-width="1.4" />
<path d="M147.1 575.5V579M145.7 575.5H148.5M145.7 579H148.5" stroke="#111" stroke-width="1.5" fill="none"/>
<polygon points="127.3,597.4 127.86,599.02 129.58,599.06 128.21,600.1 128.71,601.74 127.3,600.76 125.89,601.74 126.39,600.1 125.02,599.06 126.74,599.02" fill="#5aa232"/>
<polygon points="127.3,604.9 127.86,606.52 129.58,606.56 128.21,607.6 128.71,609.24 127.3,608.26 125.89,609.24 126.39,607.6 125.02,606.56 126.74,606.52" fill="#5aa232"/>
<polygon points="127.3,613 127.86,614.62 129.58,614.66 128.21,615.7 128.71,617.34 127.3,616.36 125.89,617.34 126.39,615.7 125.02,614.66 126.74,614.62" fill="#5aa232"/>
<polygon points="127.1,621 131.3,625.3 127.1,629.6 122.9,625.3" fill="none" stroke="#5aa232" stroke-width="1.4"/>
<polygon points="129,624 133.2,628.3 129,632.6 124.8,628.3" fill="none" stroke="#5aa232" stroke-width="1.4"/>
<line x1="123.7" y1="626.8" x2="130.9" y2="626.8" stroke="#5aa232" stroke-width="1.4" />
<path d="M127.3 624.8V628M125.9 624.8H128.7M125.9 628H128.7" stroke="#111" stroke-width="1.5" fill="none"/>
<polygon points="157,602.4 157.56,604.02 159.28,604.06 157.91,605.1 158.41,606.74 157,605.76 155.59,606.74 156.09,605.1 154.72,604.06 156.44,604.02" fill="#7b2590"/>
<polygon points="157,610.4 157.56,612.02 159.28,612.06 157.91,613.1 158.41,614.74 157,613.76 155.59,614.74 156.09,613.1 154.72,612.06 156.44,612.02" fill="#7b2590"/>
<polygon points="157,618.2 157.56,619.82 159.28,619.86 157.91,620.9 158.41,622.54 157,621.56 155.59,622.54 156.09,620.9 154.72,619.86 156.44,619.82" fill="#7b2590"/>
<polygon points="152.2,631.2 154.4,627.4 158.8,627.4 161,631.2 158.8,635 154.4,635" fill="none" stroke="#7b2590" stroke-width="1.4"/>
<polygon points="153.6,634.8 155.8,631 160.2,631 162.4,634.8 160.2,638.6 155.8,638.6" fill="none" stroke="#7b2590" stroke-width="1.4"/>
<line x1="153.4" y1="633" x2="160.6" y2="633" stroke="#7b2590" stroke-width="1.4" />
<path d="M157 630V634M155.6 630H158.4M155.6 634H158.4" stroke="#111" stroke-width="1.5" fill="none"/>
<path d="M133.5 438.8V432.5H158.3V438.8" stroke="#111" stroke-width="1.6" fill="none"/>
<polygon points="141.8,425.5 142.29,426.92 143.8,426.95 142.6,427.86 143.03,429.3 141.8,428.44 140.57,429.3 141,427.86 139.8,426.95 141.31,426.92" fill="#111"/>
<polygon points="145.9,425.5 146.39,426.92 147.9,426.95 146.7,427.86 147.13,429.3 145.9,428.44 144.67,429.3 145.1,427.86 143.9,426.95 145.41,426.92" fill="#111"/>
<polygon points="150,425.5 150.49,426.92 152,426.95 150.8,427.86 151.23,429.3 150,428.44 148.77,429.3 149.2,427.86 148,426.95 149.51,426.92" fill="#111"/>
<path d="M143.4 542.2V536.7H158.4V542.2" stroke="#111" stroke-width="1.6" fill="none"/>
<polygon points="146.8,528.1 147.29,529.52 148.8,529.55 147.6,530.46 148.03,531.9 146.8,531.04 145.57,531.9 146,530.46 144.8,529.55 146.31,529.52" fill="#111"/>
<polygon points="150.9,528.1 151.39,529.52 152.9,529.55 151.7,530.46 152.13,531.9 150.9,531.04 149.67,531.9 150.1,530.46 148.9,529.55 150.41,529.52" fill="#111"/>
<polygon points="155,528.1 155.49,529.52 157,529.55 155.8,530.46 156.23,531.9 155,531.04 153.77,531.9 154.2,530.46 153,529.55 154.51,529.52" fill="#111"/>
<circle cx="172.8" cy="432.8" r="4.4" fill="none" stroke="#434b60" stroke-width="1.4"/>
<circle cx="173.8" cy="434.4" r="4.4" fill="none" stroke="#434b60" stroke-width="1.4"/>
<path d="M173.3 432.5V435M171.9 432.5H174.7M171.9 435H174.7" stroke="#111" stroke-width="1.5" fill="none"/>
<ellipse cx="173.3" cy="433.6" rx="3.2" ry="1.5" fill="#000"/>
<rect x="179.65" y="430.45" width="7.7" height="7.7" fill="none" stroke="#2b4a8b" stroke-width="1.3"/>
<rect x="179.65" y="438.55" width="7.7" height="7.7" fill="none" stroke="#2b4a8b" stroke-width="1.3"/>
<rect x="179.65" y="453.85" width="7.7" height="7.7" fill="none" stroke="#2b4a8b" stroke-width="1.3"/>
<line x1="179.9" y1="444.8" x2="187.1" y2="444.8" stroke="#2b4a8b" stroke-width="1.4" />
<path d="M183.5 438.6V451.9M182.1 438.6H184.9M182.1 451.9H184.9" stroke="#111" stroke-width="1.5" fill="none"/>
<polygon points="193.6,429.1 198.3,437.7 188.9,437.7" fill="none" stroke="#b0103e" stroke-width="1.5" stroke-linejoin="miter"/>
<polygon points="193.6,433.2 198.3,441.8 188.9,441.8" fill="none" stroke="#b0103e" stroke-width="1.5" stroke-linejoin="miter"/>
<polygon points="193.6,437.3 198.3,445.9 188.9,445.9" fill="none" stroke="#b0103e" stroke-width="1.5" stroke-linejoin="miter"/>
<line x1="190" y1="437.5" x2="197.2" y2="437.5" stroke="#b0103e" stroke-width="1.4" />
<path d="M193.6 435.5V440M192.2 435.5H195M192.2 440H195" stroke="#111" stroke-width="1.5" fill="none"/>
<polygon points="203.2,433.9 207.9,425.3 198.5,425.3" fill="none" stroke="#e38b13" stroke-width="1.5" stroke-linejoin="miter"/>
<polygon points="203.2,438.9 207.9,430.3 198.5,430.3" fill="none" stroke="#e38b13" stroke-width="1.5" stroke-linejoin="miter"/>
<polygon points="203.2,446.9 207.9,438.3 198.5,438.3" fill="none" stroke="#e38b13" stroke-width="1.5" stroke-linejoin="miter"/>
<line x1="199.6" y1="435.6" x2="206.8" y2="435.6" stroke="#e38b13" stroke-width="1.4" />
<path d="M203.2 431.5V438.5M201.8 431.5H204.6M201.8 438.5H204.6" stroke="#111" stroke-width="1.5" fill="none"/>
<polygon points="213.3,438.8 217.5,443.1 213.3,447.4 209.1,443.1" fill="none" stroke="#5aa232" stroke-width="1.4"/>
<polygon points="214,440.5 218.2,444.8 214,449.1 209.8,444.8" fill="none" stroke="#5aa232" stroke-width="1.4"/>
<polygon points="213.3,452 217.5,456.3 213.3,460.6 209.1,456.3" fill="none" stroke="#5aa232" stroke-width="1.4"/>
<line x1="209.7" y1="448.07" x2="216.9" y2="448.07" stroke="#5aa232" stroke-width="1.4" />
<path d="M213.3 443.8V452.3M211.9 443.8H214.7M211.9 452.3H214.7" stroke="#111" stroke-width="1.5" fill="none"/>
<polygon points="223.2,418.1 223.76,419.72 225.48,419.76 224.11,420.8 224.61,422.44 223.2,421.46 221.79,422.44 222.29,420.8 220.92,419.76 222.64,419.72" fill="#b0103e"/>
<polygon points="223.2,425.9 223.76,427.52 225.48,427.56 224.11,428.6 224.61,430.24 223.2,429.26 221.79,430.24 222.29,428.6 220.92,427.56 222.64,427.52" fill="#b0103e"/>
<path d="M219 439.6H227.4M223.2 435.4V443.8" stroke="#b0103e" stroke-width="1.6" fill="none"/>
<path d="M219 458.6H227.4M223.2 454.4V462.8" stroke="#b0103e" stroke-width="1.6" fill="none"/>
<path d="M219 485.8H227.4M223.2 481.6V490" stroke="#b0103e" stroke-width="1.6" fill="none"/>
<line x1="219.6" y1="461.4" x2="226.8" y2="461.4" stroke="#b0103e" stroke-width="1.4" />
<path d="M223.2 448.1V474.6M221.8 448.1H224.6M221.8 474.6H224.6" stroke="#111" stroke-width="1.5" fill="none"/>
<path d="M228.5 441.9L237.7 451.1M237.7 441.9L228.5 451.1" stroke="#efb60c" stroke-width="1.4" fill="none"/>
<path d="M228.5 445.4L237.7 454.6M237.7 445.4L228.5 454.6" stroke="#efb60c" stroke-width="1.4" fill="none"/>
<path d="M228.5 454.2L237.7 463.4M237.7 454.2L228.5 463.4" stroke="#efb60c" stroke-width="1.4" fill="none"/>
<line x1="229.5" y1="451.77" x2="236.7" y2="451.77" stroke="#efb60c" stroke-width="1.4" />
<path d="M233.1 448V455M231.7 448H234.5M231.7 455H234.5" stroke="#111" stroke-width="1.5" fill="none"/>
<polygon points="243.1,428.4 243.66,430.02 245.38,430.06 244.01,431.1 244.51,432.74 243.1,431.76 241.69,432.74 242.19,431.1 240.82,430.06 242.54,430.02" fill="#7b2590"/>
<polygon points="243.1,436.2 243.66,437.82 245.38,437.86 244.01,438.9 244.51,440.54 243.1,439.56 241.69,440.54 242.19,438.9 240.82,437.86 242.54,437.82" fill="#7b2590"/>
<polygon points="243.1,443.9 243.66,445.52 245.38,445.56 244.01,446.6 244.51,448.24 243.1,447.26 241.69,448.24 242.19,446.6 240.82,445.56 242.54,445.52" fill="#7b2590"/>
<polygon points="237.8,462.3 240,458.5 244.4,458.5 246.6,462.3 244.4,466.1 240,466.1" fill="none" stroke="#7b2590" stroke-width="1.4"/>
<polygon points="239.4,468.5 241.6,464.7 246,464.7 248.2,468.5 246,472.3 241.6,472.3" fill="none" stroke="#7b2590" stroke-width="1.4"/>
<polygon points="238.7,503.4 240.9,499.6 245.3,499.6 247.5,503.4 245.3,507.2 240.9,507.2" fill="none" stroke="#7b2590" stroke-width="1.4"/>
<line x1="239.5" y1="478.5" x2="246.7" y2="478.5" stroke="#7b2590" stroke-width="1.4" />
<path d="M243.1 465.8V491.2M241.7 465.8H244.5M241.7 491.2H244.5" stroke="#111" stroke-width="1.5" fill="none"/>
<circle cx="345.6" cy="432.7" r="4.4" fill="none" stroke="#434b60" stroke-width="1.4"/>
<circle cx="344.8" cy="438.5" r="4.4" fill="none" stroke="#434b60" stroke-width="1.4"/>
<circle cx="346.5" cy="443" r="4.4" fill="none" stroke="#434b60" stroke-width="1.4"/>
<line x1="342" y1="438.07" x2="349.2" y2="438.07" stroke="#434b60" stroke-width="1.4" />
<path d="M345.6 434.5V441M344.2 434.5H347M344.2 441H347" stroke="#111" stroke-width="1.5" fill="none"/>
<rect x="351.65" y="445.55" width="7.7" height="7.7" fill="none" stroke="#2b4a8b" stroke-width="1.3"/>
<rect x="350.75" y="455.35" width="7.7" height="7.7" fill="none" stroke="#2b4a8b" stroke-width="1.3"/>
<rect x="352.45" y="462.85" width="7.7" height="7.7" fill="none" stroke="#2b4a8b" stroke-width="1.3"/>
<line x1="351.9" y1="458.43" x2="359.1" y2="458.43" stroke="#2b4a8b" stroke-width="1.4" />
<path d="M355.5 454V462.7M354.1 454H356.9M354.1 462.7H356.9" stroke="#111" stroke-width="1.5" fill="none"/>
<polygon points="365.3,433.7 365.86,435.32 367.58,435.36 366.21,436.4 366.71,438.04 365.3,437.06 363.89,438.04 364.39,436.4 363.02,435.36 364.74,435.32" fill="#b0103e"/>
<polygon points="365.3,441.6 365.86,443.22 367.58,443.26 366.21,444.3 366.71,445.94 365.3,444.96 363.89,445.94 364.39,444.3 363.02,443.26 364.74,443.22" fill="#b0103e"/>
<polygon points="365.3,457.3 370,465.9 360.6,465.9" fill="none" stroke="#b0103e" stroke-width="1.5" stroke-linejoin="miter"/>
<polygon points="365.3,460.1 370,468.7 360.6,468.7" fill="none" stroke="#b0103e" stroke-width="1.5" stroke-linejoin="miter"/>
<polygon points="365.3,484 370,492.6 360.6,492.6" fill="none" stroke="#b0103e" stroke-width="1.5" stroke-linejoin="miter"/>
<line x1="361.7" y1="470.6" x2="368.9" y2="470.6" stroke="#b0103e" stroke-width="1.4" />
<path d="M365.3 461.5V479.6M363.9 461.5H366.7M363.9 479.6H366.7" stroke="#111" stroke-width="1.5" fill="none"/>
<polygon points="375.5,435.5 376.06,437.12 377.78,437.16 376.41,438.2 376.91,439.84 375.5,438.86 374.09,439.84 374.59,438.2 373.22,437.16 374.94,437.12" fill="#e38b13"/>
<polygon points="375.5,453.1 380.2,444.5 370.8,444.5" fill="none" stroke="#e38b13" stroke-width="1.5" stroke-linejoin="miter"/>
<polygon points="375.5,457.2 380.2,448.6 370.8,448.6" fill="none" stroke="#e38b13" stroke-width="1.5" stroke-linejoin="miter"/>
<polygon points="375.5,485.8 380.2,477.2 370.8,477.2" fill="none" stroke="#e38b13" stroke-width="1.5" stroke-linejoin="miter"/>
<line x1="371.9" y1="462.6" x2="379.1" y2="462.6" stroke="#e38b13" stroke-width="1.4" />
<path d="M375.5 453.4V472M374.1 453.4H376.9M374.1 472H376.9" stroke="#111" stroke-width="1.5" fill="none"/>
<polygon points="395.2,448.5 395.76,450.12 397.48,450.16 396.11,451.2 396.61,452.84 395.2,451.86 393.79,452.84 394.29,451.2 392.92,450.16 394.64,450.12" fill="#b0103e"/>
<polygon points="395.2,456.2 395.76,457.82 397.48,457.86 396.11,458.9 396.61,460.54 395.2,459.56 393.79,460.54 394.29,458.9 392.92,457.86 394.64,457.82" fill="#b0103e"/>
<polygon points="395.2,464.1 395.76,465.72 397.48,465.76 396.11,466.8 396.61,468.44 395.2,467.46 393.79,468.44 394.29,466.8 392.92,465.76 394.64,465.72" fill="#b0103e"/>
<path d="M391 477.3H399.4M395.2 473.1V481.5" stroke="#b0103e" stroke-width="1.6" fill="none"/>
<path d="M391 487.1H399.4M395.2 482.9V491.3" stroke="#b0103e" stroke-width="1.6" fill="none"/>
<path d="M391 503.6H399.4M395.2 499.4V507.8" stroke="#b0103e" stroke-width="1.6" fill="none"/>
<line x1="391.6" y1="489.4" x2="398.8" y2="489.4" stroke="#b0103e" stroke-width="1.4" />
<path d="M395.2 481.3V496.9M393.8 481.3H396.6M393.8 496.9H396.6" stroke="#111" stroke-width="1.5" fill="none"/>
<path d="M391.9 444.6V439H417.5V444.6" stroke="#111" stroke-width="1.6" fill="none"/>
<polygon points="400.6,431.2 401.09,432.62 402.6,432.65 401.4,433.56 401.83,435 400.6,434.14 399.37,435 399.8,433.56 398.6,432.65 400.11,432.62" fill="#111"/>
<polygon points="404.7,431.2 405.19,432.62 406.7,432.65 405.5,433.56 405.93,435 404.7,434.14 403.47,435 403.9,433.56 402.7,432.65 404.21,432.62" fill="#111"/>
<polygon points="408.8,431.2 409.29,432.62 410.8,432.65 409.6,433.56 410.03,435 408.8,434.14 407.57,435 408,433.56 406.8,432.65 408.31,432.62" fill="#111"/>
<polygon points="385,570.1 385.56,571.72 387.28,571.76 385.91,572.8 386.41,574.44 385,573.46 383.59,574.44 384.09,572.8 382.72,571.76 384.44,571.72" fill="#5aa232"/>
<polygon points="385,578.2 385.56,579.82 387.28,579.86 385.91,580.9 386.41,582.54 385,581.56 383.59,582.54 384.09,580.9 382.72,579.86 384.44,579.82" fill="#5aa232"/>
<polygon points="385,585.8 385.56,587.42 387.28,587.46 385.91,588.5 386.41,590.14 385,589.16 383.59,590.14 384.09,588.5 382.72,587.46 384.44,587.42" fill="#5aa232"/>
<polygon points="385,596.3 389.2,600.6 385,604.9 380.8,600.6" fill="none" stroke="#5aa232" stroke-width="1.4"/>
<polygon points="384,609.3 388.2,613.6 384,617.9 379.8,613.6" fill="none" stroke="#5aa232" stroke-width="1.4"/>
<polygon points="387,611.8 391.2,616.1 387,620.4 382.8,616.1" fill="none" stroke="#5aa232" stroke-width="1.4"/>
<line x1="381.4" y1="610.1" x2="388.6" y2="610.1" stroke="#5aa232" stroke-width="1.4" />
<path d="M385 604.8V614.4M383.6 604.8H386.4M383.6 614.4H386.4" stroke="#111" stroke-width="1.5" fill="none"/>
<polygon points="405.1,576.8 405.66,578.42 407.38,578.46 406.01,579.5 406.51,581.14 405.1,580.16 403.69,581.14 404.19,579.5 402.82,578.46 404.54,578.42" fill="#efb60c"/>
<polygon points="405.1,584.9 405.66,586.52 407.38,586.56 406.01,587.6 406.51,589.24 405.1,588.26 403.69,589.24 404.19,587.6 402.82,586.56 404.54,586.52" fill="#efb60c"/>
<polygon points="405.1,592.4 405.66,594.02 407.38,594.06 406.01,595.1 406.51,596.74 405.1,595.76 403.69,596.74 404.19,595.1 402.82,594.06 404.54,594.02" fill="#efb60c"/>
<path d="M400.6 603.6L409.8 612.8M409.8 603.6L400.6 612.8" stroke="#efb60c" stroke-width="1.4" fill="none"/>
<path d="M400 607.2L409.2 616.4M409.2 607.2L400 616.4" stroke="#efb60c" stroke-width="1.4" fill="none"/>
<path d="M401.6 611L410.8 620.2M410.8 611L401.6 620.2" stroke="#efb60c" stroke-width="1.4" fill="none"/>
<line x1="401.5" y1="611.87" x2="408.7" y2="611.87" stroke="#efb60c" stroke-width="1.4" />
<path d="M405.1 609V614.4M403.7 609H406.5M403.7 614.4H406.5" stroke="#111" stroke-width="1.5" fill="none"/>
<polygon points="414.8,600.8 415.36,602.42 417.08,602.46 415.71,603.5 416.21,605.14 414.8,604.16 413.39,605.14 413.89,603.5 412.52,602.46 414.24,602.42" fill="#7b2590"/>
<polygon points="414.8,608.6 415.36,610.22 417.08,610.26 415.71,611.3 416.21,612.94 414.8,611.96 413.39,612.94 413.89,611.3 412.52,610.26 414.24,610.22" fill="#7b2590"/>
<polygon points="414.8,616.6 415.36,618.22 417.08,618.26 415.71,619.3 416.21,620.94 414.8,619.96 413.39,620.94 413.89,619.3 412.52,618.26 414.24,618.22" fill="#7b2590"/>
<polygon points="410.4,628.8 412.6,625 417,625 419.2,628.8 417,632.6 412.6,632.6" fill="none" stroke="#7b2590" stroke-width="1.4"/>
<polygon points="409.6,631.2 411.8,627.4 416.2,627.4 418.4,631.2 416.2,635 411.8,635" fill="none" stroke="#7b2590" stroke-width="1.4"/>
<polygon points="411.1,639.4 413.3,635.6 417.7,635.6 419.9,639.4 417.7,643.2 413.3,643.2" fill="none" stroke="#7b2590" stroke-width="1.4"/>
<line x1="411.2" y1="633.13" x2="418.4" y2="633.13" stroke="#7b2590" stroke-width="1.4" />
<path d="M414.8 630V636M413.4 630H416.2M413.4 636H416.2" stroke="#111" stroke-width="1.5" fill="none"/>
<path d="M381.9 550.7V544.5H417.1V550.7" stroke="#111" stroke-width="1.6" fill="none"/>
<polygon points="399.5,536.6 399.99,538.02 401.5,538.05 400.3,538.96 400.73,540.4 399.5,539.54 398.27,540.4 398.7,538.96 397.5,538.05 399.01,538.02" fill="#111"/>
<path d="M402.5 571.4V565.6H417.3V571.4" stroke="#111" stroke-width="1.6" fill="none"/>
<polygon points="405.8,557.1 406.29,558.52 407.8,558.55 406.6,559.46 407.03,560.9 405.8,560.04 404.57,560.9 405,559.46 403.8,558.55 405.31,558.52" fill="#111"/>
<polygon points="409.9,557.1 410.39,558.52 411.9,558.55 410.7,559.46 411.13,560.9 409.9,560.04 408.67,560.9 409.1,559.46 407.9,558.55 409.41,558.52" fill="#111"/>
<polygon points="414,557.1 414.49,558.52 416,558.55 414.8,559.46 415.23,560.9 414,560.04 412.77,560.9 413.2,559.46 412,558.55 413.51,558.52" fill="#111"/>
<circle cx="430.7" cy="437.9" r="4.4" fill="none" stroke="#434b60" stroke-width="1.4"/>
<circle cx="430.7" cy="443" r="4.4" fill="none" stroke="#434b60" stroke-width="1.4"/>
<path d="M430.7 438.5V442M429.3 438.5H432.1M429.3 442H432.1" stroke="#111" stroke-width="1.5" fill="none"/>
<ellipse cx="430.7" cy="440.45" rx="3.2" ry="1.5" fill="#000"/>
<rect x="437.65" y="432.65" width="7.7" height="7.7" fill="none" stroke="#2b4a8b" stroke-width="1.3"/>
<rect x="437.65" y="436.15" width="7.7" height="7.7" fill="none" stroke="#2b4a8b" stroke-width="1.3"/>
<rect x="437.65" y="439.15" width="7.7" height="7.7" fill="none" stroke="#2b4a8b" stroke-width="1.3"/>
<line x1="437.9" y1="439.83" x2="445.1" y2="439.83" stroke="#2b4a8b" stroke-width="1.4" />
<path d="M441.5 437.5V441.5M440.1 437.5H442.9M440.1 441.5H442.9" stroke="#111" stroke-width="1.5" fill="none"/>
<polygon points="452,432.2 456.7,440.8 447.3,440.8" fill="none" stroke="#b0103e" stroke-width="1.5" stroke-linejoin="miter"/>
<polygon points="452,437.2 456.7,445.8 447.3,445.8" fill="none" stroke="#b0103e" stroke-width="1.5" stroke-linejoin="miter"/>
<polygon points="452,442.7 456.7,451.3 447.3,451.3" fill="none" stroke="#b0103e" stroke-width="1.5" stroke-linejoin="miter"/>
<line x1="448.4" y1="441.67" x2="455.6" y2="441.67" stroke="#b0103e" stroke-width="1.4" />
<path d="M452 437.5V444M450.6 437.5H453.4M450.6 444H453.4" stroke="#111" stroke-width="1.5" fill="none"/>
<polygon points="461.5,438.3 466.2,429.7 456.8,429.7" fill="none" stroke="#e38b13" stroke-width="1.5" stroke-linejoin="miter"/>
<polygon points="461.5,444.8 466.2,436.2 456.8,436.2" fill="none" stroke="#e38b13" stroke-width="1.5" stroke-linejoin="miter"/>
<polygon points="461.5,456.5 466.2,447.9 456.8,447.9" fill="none" stroke="#e38b13" stroke-width="1.5" stroke-linejoin="miter"/>
<line x1="457.9" y1="442.23" x2="465.1" y2="442.23" stroke="#e38b13" stroke-width="1.4" />
<path d="M461.5 437V448M460.1 437H462.9M460.1 448H462.9" stroke="#111" stroke-width="1.5" fill="none"/>
<polygon points="471.5,432.7 475.7,437 471.5,441.3 467.3,437" fill="none" stroke="#5aa232" stroke-width="1.4"/>
<polygon points="471.5,443.7 475.7,448 471.5,452.3 467.3,448" fill="none" stroke="#5aa232" stroke-width="1.4"/>
<polygon points="471.5,461.5 475.7,465.8 471.5,470.1 467.3,465.8" fill="none" stroke="#5aa232" stroke-width="1.4"/>
<line x1="467.9" y1="450.27" x2="475.1" y2="450.27" stroke="#5aa232" stroke-width="1.4" />
<path d="M471.5 441.5V459.2M470.1 441.5H472.9M470.1 459.2H472.9" stroke="#111" stroke-width="1.5" fill="none"/>
<path d="M477.1 434.8H485.5M481.3 430.6V439" stroke="#b0103e" stroke-width="1.6" fill="none"/>
<path d="M477.1 440.3H485.5M481.3 436.1V444.5" stroke="#b0103e" stroke-width="1.6" fill="none"/>
<path d="M477.1 443.2H485.5M481.3 439V447.4" stroke="#b0103e" stroke-width="1.6" fill="none"/>
<path d="M477.1 454.4H485.5M481.3 450.2V458.6" stroke="#b0103e" stroke-width="1.6" fill="none"/>
<line x1="477.7" y1="443.18" x2="484.9" y2="443.18" stroke="#b0103e" stroke-width="1.4" />
<path d="M481.3 437.7V449M479.9 437.7H482.7M479.9 449H482.7" stroke="#111" stroke-width="1.5" fill="none"/>
<path d="M486.7 430.4L495.9 439.6M495.9 430.4L486.7 439.6" stroke="#efb60c" stroke-width="1.4" fill="none"/>
<path d="M486.7 435.2L495.9 444.4M495.9 435.2L486.7 444.4" stroke="#efb60c" stroke-width="1.4" fill="none"/>
<path d="M485 441.4L494.2 450.6M494.2 441.4L485 450.6" stroke="#efb60c" stroke-width="1.4" fill="none"/>
<line x1="487.7" y1="440.27" x2="494.9" y2="440.27" stroke="#efb60c" stroke-width="1.4" />
<path d="M491.3 438.4V445.1M489.9 438.4H492.7M489.9 445.1H492.7" stroke="#111" stroke-width="1.5" fill="none"/>
<polygon points="496.9,435.5 499.1,431.7 503.5,431.7 505.7,435.5 503.5,439.3 499.1,439.3" fill="none" stroke="#7b2590" stroke-width="1.4"/>
<polygon points="496.9,449.9 499.1,446.1 503.5,446.1 505.7,449.9 503.5,453.7 499.1,453.7" fill="none" stroke="#7b2590" stroke-width="1.4"/>
<polygon points="496.9,454.4 499.1,450.6 503.5,450.6 505.7,454.4 503.5,458.2 499.1,458.2" fill="none" stroke="#7b2590" stroke-width="1.4"/>
<line x1="497.7" y1="446.6" x2="504.9" y2="446.6" stroke="#7b2590" stroke-width="1.4" />
<path d="M501.3 441.3V452.3M499.9 441.3H502.7M499.9 452.3H502.7" stroke="#111" stroke-width="1.5" fill="none"/>
<text x="10.8" y="701" font-size="16.8" fill="#111" color="#111" text-anchor="start" font-weight="bold" stroke="#000" stroke-width="0.5">C</text>
<text x="120.4" y="703.1" font-size="12" fill="#111" color="#111" text-anchor="start" font-weight="normal" >huCD34<tspan dy="-5" font-size="10.5">+</tspan><tspan dy="5"> HSPC</tspan></text>
<text x="382.9" y="703.7" font-size="12.3" fill="#111" color="#111" text-anchor="start" font-weight="normal" >MV4;11 AML</text>
<line x1="81.2" y1="712.7" x2="81.2" y2="930.2" stroke="#111" stroke-width="1.6" />
<line x1="76.5" y1="929.4" x2="506" y2="929.4" stroke="#111" stroke-width="1.8" />
<line x1="76.8" y1="717.4" x2="81.2" y2="717.4" stroke="#111" stroke-width="1.4" />
<text x="71.3" y="721.5" font-size="12" fill="#111" color="#111" text-anchor="end" font-weight="normal" >100</text>
<line x1="76.8" y1="770.4" x2="81.2" y2="770.4" stroke="#111" stroke-width="1.4" />
<text x="71.3" y="774.5" font-size="12" fill="#111" color="#111" text-anchor="end" font-weight="normal" >75</text>
<line x1="76.8" y1="823.4" x2="81.2" y2="823.4" stroke="#111" stroke-width="1.4" />
<text x="71.3" y="827.5" font-size="12" fill="#111" color="#111" text-anchor="end" font-weight="normal" >50</text>
<line x1="76.8" y1="876.4" x2="81.2" y2="876.4" stroke="#111" stroke-width="1.4" />
<text x="71.3" y="880.5" font-size="12" fill="#111" color="#111" text-anchor="end" font-weight="normal" >25</text>
<line x1="76.8" y1="929.4" x2="81.2" y2="929.4" stroke="#111" stroke-width="1.4" />
<text x="71.3" y="933.5" font-size="12" fill="#111" color="#111" text-anchor="end" font-weight="normal" >0</text>
<text transform="translate(21.3,821) rotate(-90)" x="0" y="0" font-size="14" fill="#111" text-anchor="middle" textLength="86.7" lengthAdjust="spacingAndGlyphs" stroke="#111" stroke-width="0.3">% colony formation</text>
<text transform="translate(41.6,821) rotate(-90)" x="0" y="0" font-size="14" fill="#111" text-anchor="middle" textLength="84.7" lengthAdjust="spacingAndGlyphs" stroke="#111" stroke-width="0.3">(relative to vehicle)</text>
<text x="252.6" y="944.3" font-size="13.5" fill="#111" stroke="#111" stroke-width="0.3" textLength="81.8" lengthAdjust="spacingAndGlyphs">Drug combinations</text>
<circle cx="92.3" cy="716.9" r="3.8" fill="none" stroke="#434b60" stroke-width="1.3"/>
<circle cx="98.8" cy="723.8" r="3.8" fill="none" stroke="#434b60" stroke-width="1.3"/>
<circle cx="92.3" cy="728.8" r="3.8" fill="none" stroke="#434b60" stroke-width="1.3"/>
<path d="M95 721V726.8M91.4 721H98.6M91.4 726.8H98.6" stroke="#111" stroke-width="1.5" fill="none"/>
<line x1="87.7" y1="723.8" x2="102.3" y2="723.8" stroke="#434b60" stroke-width="1.3" />
<rect x="113.9" y="720.55" width="7.7" height="7.7" fill="none" stroke="#2b4a8b" stroke-width="1.3"/>
<rect x="117.15" y="736.4" width="7.7" height="7.7" fill="none" stroke="#2b4a8b" stroke-width="1.3"/>
<rect x="111.15" y="738.4" width="7.7" height="7.7" fill="none" stroke="#2b4a8b" stroke-width="1.3"/>
<path d="M117.7 730V741.9M114.1 730H121.3M114.1 741.9H121.3" stroke="#111" stroke-width="1.5" fill="none"/>
<line x1="110.4" y1="735.6" x2="125" y2="735.6" stroke="#2b4a8b" stroke-width="1.3" />
<polygon points="136.9,730.2 141.1,737.8 132.7,737.8" fill="none" stroke="#b0103e" stroke-width="1.5" stroke-linejoin="miter"/>
<polygon points="143.75,736.8 147.95,744.4 139.55,744.4" fill="none" stroke="#b0103e" stroke-width="1.5" stroke-linejoin="miter"/>
<polygon points="140,758.95 144.2,766.55 135.8,766.55" fill="none" stroke="#b0103e" stroke-width="1.5" stroke-linejoin="miter"/>
<path d="M140 736.9V755M136.4 736.9H143.6M136.4 755H143.6" stroke="#111" stroke-width="1.5" fill="none"/>
<line x1="132.7" y1="745.6" x2="147.3" y2="745.6" stroke="#b0103e" stroke-width="1.3" />
<polygon points="159.2,729.7 163.4,722.1 155,722.1" fill="none" stroke="#e38b13" stroke-width="1.5" stroke-linejoin="miter"/>
<polygon points="166.2,734.3 170.4,726.7 162,726.7" fill="none" stroke="#e38b13" stroke-width="1.5" stroke-linejoin="miter"/>
<polygon points="162.7,798.5 166.9,790.9 158.5,790.9" fill="none" stroke="#e38b13" stroke-width="1.5" stroke-linejoin="miter"/>
<path d="M162.7 728.9V773.4M159.1 728.9H166.3M159.1 773.4H166.3" stroke="#111" stroke-width="1.5" fill="none"/>
<line x1="155.4" y1="751.3" x2="170" y2="751.3" stroke="#e38b13" stroke-width="1.3" />
<polygon points="184.6,722.2 189,726.6 184.6,731 180.2,726.6" fill="none" stroke="#5aa232" stroke-width="1.3"/>
<polygon points="184.6,738.3 189,742.7 184.6,747.1 180.2,742.7" fill="none" stroke="#5aa232" stroke-width="1.3"/>
<polygon points="184.6,748.3 189,752.7 184.6,757.1 180.2,752.7" fill="none" stroke="#5aa232" stroke-width="1.3"/>
<path d="M184.6 733V748.5M181 733H188.2M181 748.5H188.2" stroke="#111" stroke-width="1.5" fill="none"/>
<line x1="177.3" y1="741.1" x2="191.9" y2="741.1" stroke="#5aa232" stroke-width="1.3" />
<path d="M203.4 735.8H211.2M207.3 731.9V739.7" stroke="#b0103e" stroke-width="1.5" fill="none"/>
<path d="M206.6 751.3H214.4M210.5 747.4V755.2" stroke="#b0103e" stroke-width="1.5" fill="none"/>
<path d="M199.9 759.6H207.7M203.8 755.7V763.5" stroke="#b0103e" stroke-width="1.5" fill="none"/>
<path d="M207.3 742V755.4M203.7 742H210.9M203.7 755.4H210.9" stroke="#111" stroke-width="1.5" fill="none"/>
<line x1="200" y1="749" x2="214.6" y2="749" stroke="#b0103e" stroke-width="1.3" />
<path d="M225.7 736.4L233.7 744.4M233.7 736.4L225.7 744.4" stroke="#efb60c" stroke-width="1.3" fill="none"/>
<path d="M225.7 750.3L233.7 758.3M233.7 750.3L225.7 758.3" stroke="#efb60c" stroke-width="1.3" fill="none"/>
<path d="M225.7 764.1L233.7 772.1M233.7 764.1L225.7 772.1" stroke="#efb60c" stroke-width="1.3" fill="none"/>
<path d="M229.7 746.7V761.9M226.1 746.7H233.3M226.1 761.9H233.3" stroke="#111" stroke-width="1.5" fill="none"/>
<line x1="222.4" y1="754.3" x2="237" y2="754.3" stroke="#efb60c" stroke-width="1.3" />
<polygon points="247.7,752 249.65,748.6 253.55,748.6 255.5,752 253.55,755.4 249.65,755.4" fill="none" stroke="#7b2590" stroke-width="1.3"/>
<polygon points="247.7,763.5 249.65,760.1 253.55,760.1 255.5,763.5 253.55,766.9 249.65,766.9" fill="none" stroke="#7b2590" stroke-width="1.3"/>
<polygon points="247.7,777.4 249.65,774 253.55,774 255.5,777.4 253.55,780.8 249.65,780.8" fill="none" stroke="#7b2590" stroke-width="1.3"/>
<path d="M251.6 756.6V771.6M248 756.6H255.2M248 771.6H255.2" stroke="#111" stroke-width="1.5" fill="none"/>
<line x1="244.3" y1="764.2" x2="258.9" y2="764.2" stroke="#7b2590" stroke-width="1.3" />
<circle cx="333.5" cy="717.3" r="3.8" fill="none" stroke="#434b60" stroke-width="1.3"/>
<circle cx="333.5" cy="734.2" r="3.8" fill="none" stroke="#434b60" stroke-width="1.3"/>
<circle cx="333.5" cy="761.2" r="3.8" fill="none" stroke="#434b60" stroke-width="1.3"/>
<path d="M333.5 725V750.4M329.9 725H337.1M329.9 750.4H337.1" stroke="#111" stroke-width="1.5" fill="none"/>
<line x1="326.2" y1="737.5" x2="340.8" y2="737.5" stroke="#434b60" stroke-width="1.3" />
<rect x="352.15" y="717.35" width="7.7" height="7.7" fill="none" stroke="#2b4a8b" stroke-width="1.3"/>
<rect x="352.15" y="780.75" width="7.7" height="7.7" fill="none" stroke="#2b4a8b" stroke-width="1.3"/>
<rect x="352.15" y="804.65" width="7.7" height="7.7" fill="none" stroke="#2b4a8b" stroke-width="1.3"/>
<path d="M356 745.2V797.1M352.4 745.2H359.6M352.4 797.1H359.6" stroke="#111" stroke-width="1.5" fill="none"/>
<line x1="348.7" y1="771.2" x2="363.3" y2="771.2" stroke="#2b4a8b" stroke-width="1.3" />
<polygon points="376.6,807.25 377.06,808.57 378.45,808.6 377.34,809.44 377.75,810.78 376.6,809.98 375.45,810.78 375.86,809.44 374.75,808.6 376.14,808.57" fill="#b0103e"/>
<polygon points="380.4,807.25 380.86,808.57 382.25,808.6 381.14,809.44 381.55,810.78 380.4,809.98 379.25,810.78 379.66,809.44 378.55,808.6 379.94,808.57" fill="#b0103e"/>
<polygon points="375,818.5 379.2,826.1 370.8,826.1" fill="none" stroke="#b0103e" stroke-width="1.5" stroke-linejoin="miter"/>
<polygon points="381.9,821.4 386.1,829 377.7,829" fill="none" stroke="#b0103e" stroke-width="1.5" stroke-linejoin="miter"/>
<polygon points="378.5,832 382.7,839.6 374.3,839.6" fill="none" stroke="#b0103e" stroke-width="1.5" stroke-linejoin="miter"/>
<path d="M378.5 823.3V831.5M374.9 823.3H382.1M374.9 831.5H382.1" stroke="#111" stroke-width="1.5" fill="none"/>
<line x1="371.2" y1="826.2" x2="385.8" y2="826.2" stroke="#b0103e" stroke-width="1.3" />
<polygon points="400.6,777.25 401.06,778.57 402.45,778.6 401.34,779.44 401.75,780.78 400.6,779.98 399.45,780.78 399.86,779.44 398.75,778.6 400.14,778.57" fill="#e38b13"/>
<polygon points="400.6,795 404.8,787.4 396.4,787.4" fill="none" stroke="#e38b13" stroke-width="1.5" stroke-linejoin="miter"/>
<polygon points="400.6,814.6 404.8,807 396.4,807" fill="none" stroke="#e38b13" stroke-width="1.5" stroke-linejoin="miter"/>
<polygon points="400.6,824.6 404.8,817 396.4,817" fill="none" stroke="#e38b13" stroke-width="1.5" stroke-linejoin="miter"/>
<path d="M400.6 799.2V814.6M397 799.2H404.2M397 814.6H404.2" stroke="#111" stroke-width="1.5" fill="none"/>
<line x1="393.3" y1="808.5" x2="407.9" y2="808.5" stroke="#e38b13" stroke-width="1.3" />
<polygon points="418.6,798.85 419.06,800.17 420.45,800.2 419.34,801.04 419.75,802.38 418.6,801.58 417.45,802.38 417.86,801.04 416.75,800.2 418.14,800.17" fill="#5aa232"/>
<polygon points="422.4,798.85 422.86,800.17 424.25,800.2 423.14,801.04 423.55,802.38 422.4,801.58 421.25,802.38 421.66,801.04 420.55,800.2 421.94,800.17" fill="#5aa232"/>
<polygon points="426.2,798.85 426.66,800.17 428.05,800.2 426.94,801.04 427.35,802.38 426.2,801.58 425.05,802.38 425.46,801.04 424.35,800.2 425.74,800.17" fill="#5aa232"/>
<polygon points="422.4,814.1 426.8,818.5 422.4,822.9 418,818.5" fill="none" stroke="#5aa232" stroke-width="1.3"/>
<polygon points="422.4,861.2 426.8,865.6 422.4,870 418,865.6" fill="none" stroke="#5aa232" stroke-width="1.3"/>
<polygon points="422.4,887.9 426.8,892.3 422.4,896.7 418,892.3" fill="none" stroke="#5aa232" stroke-width="1.3"/>
<path d="M422.4 837.1V880.4M418.8 837.1H426M418.8 880.4H426" stroke="#111" stroke-width="1.5" fill="none"/>
<line x1="415.1" y1="858.7" x2="429.7" y2="858.7" stroke="#5aa232" stroke-width="1.3" />
<polygon points="443.4,781.15 443.86,782.47 445.25,782.5 444.14,783.34 444.55,784.68 443.4,783.88 442.25,784.68 442.66,783.34 441.55,782.5 442.94,782.47" fill="#b0103e"/>
<polygon points="447.2,781.15 447.66,782.47 449.05,782.5 447.94,783.34 448.35,784.68 447.2,783.88 446.05,784.68 446.46,783.34 445.35,782.5 446.74,782.47" fill="#b0103e"/>
<path d="M441.4 795.2H449.2M445.3 791.3V799.1" stroke="#b0103e" stroke-width="1.5" fill="none"/>
<path d="M441.4 824.6H449.2M445.3 820.7V828.5" stroke="#b0103e" stroke-width="1.5" fill="none"/>
<path d="M441.4 845.8H449.2M445.3 841.9V849.7" stroke="#b0103e" stroke-width="1.5" fill="none"/>
<path d="M445.3 807.3V836.2M441.7 807.3H448.9M441.7 836.2H448.9" stroke="#111" stroke-width="1.5" fill="none"/>
<line x1="438" y1="821.7" x2="452.6" y2="821.7" stroke="#b0103e" stroke-width="1.3" />
<polygon points="463.9,859.75 464.36,861.07 465.75,861.1 464.64,861.94 465.05,863.28 463.9,862.48 462.75,863.28 463.16,861.94 462.05,861.1 463.44,861.07" fill="#efb60c"/>
<polygon points="467.7,859.75 468.16,861.07 469.55,861.1 468.44,861.94 468.85,863.28 467.7,862.48 466.55,863.28 466.96,861.94 465.85,861.1 467.24,861.07" fill="#efb60c"/>
<polygon points="471.5,859.75 471.96,861.07 473.35,861.1 472.24,861.94 472.65,863.28 471.5,862.48 470.35,863.28 470.76,861.94 469.65,861.1 471.04,861.07" fill="#efb60c"/>
<path d="M463.7 871.9L471.7 879.9M471.7 871.9L463.7 879.9" stroke="#efb60c" stroke-width="1.3" fill="none"/>
<path d="M463.7 882.8L471.7 890.8M471.7 882.8L463.7 890.8" stroke="#efb60c" stroke-width="1.3" fill="none"/>
<path d="M463.7 895.1L471.7 903.1M471.7 895.1L463.7 903.1" stroke="#efb60c" stroke-width="1.3" fill="none"/>
<path d="M467.7 880.1V893.4M464.1 880.1H471.3M464.1 893.4H471.3" stroke="#111" stroke-width="1.5" fill="none"/>
<line x1="460.4" y1="886.8" x2="475" y2="886.8" stroke="#efb60c" stroke-width="1.3" />
<polygon points="485,902.45 485.46,903.77 486.85,903.8 485.74,904.64 486.15,905.98 485,905.18 483.85,905.98 484.26,904.64 483.15,903.8 484.54,903.77" fill="#7b2590"/>
<polygon points="488.8,902.45 489.26,903.77 490.65,903.8 489.54,904.64 489.95,905.98 488.8,905.18 487.65,905.98 488.06,904.64 486.95,903.8 488.34,903.77" fill="#7b2590"/>
<polygon points="492.6,902.45 493.06,903.77 494.45,903.8 493.34,904.64 493.75,905.98 492.6,905.18 491.45,905.98 491.86,904.64 490.75,903.8 492.14,903.77" fill="#7b2590"/>
<polygon points="482.4,916 484.35,912.6 488.25,912.6 490.2,916 488.25,919.4 484.35,919.4" fill="none" stroke="#7b2590" stroke-width="1.3"/>
<polygon points="489.1,919.2 491.05,915.8 494.95,915.8 496.9,919.2 494.95,922.6 491.05,922.6" fill="none" stroke="#7b2590" stroke-width="1.3"/>
<polygon points="482.4,925.5 484.35,922.1 488.25,922.1 490.2,925.5 488.25,928.9 484.35,928.9" fill="none" stroke="#7b2590" stroke-width="1.3"/>
<path d="M488.8 917V923.4M485.2 917H492.4M485.2 923.4H492.4" stroke="#111" stroke-width="1.5" fill="none"/>
<line x1="481.5" y1="920.9" x2="496.1" y2="920.9" stroke="#7b2590" stroke-width="1.3" />
<path d="M0.75 0V958M0 0.75H520" stroke="#000" stroke-width="1.5" fill="none"/>
<path d="M518.75 0V958M0 956.75H520" stroke="#000" stroke-width="2.5" fill="none"/>
</svg></div></body></html>
